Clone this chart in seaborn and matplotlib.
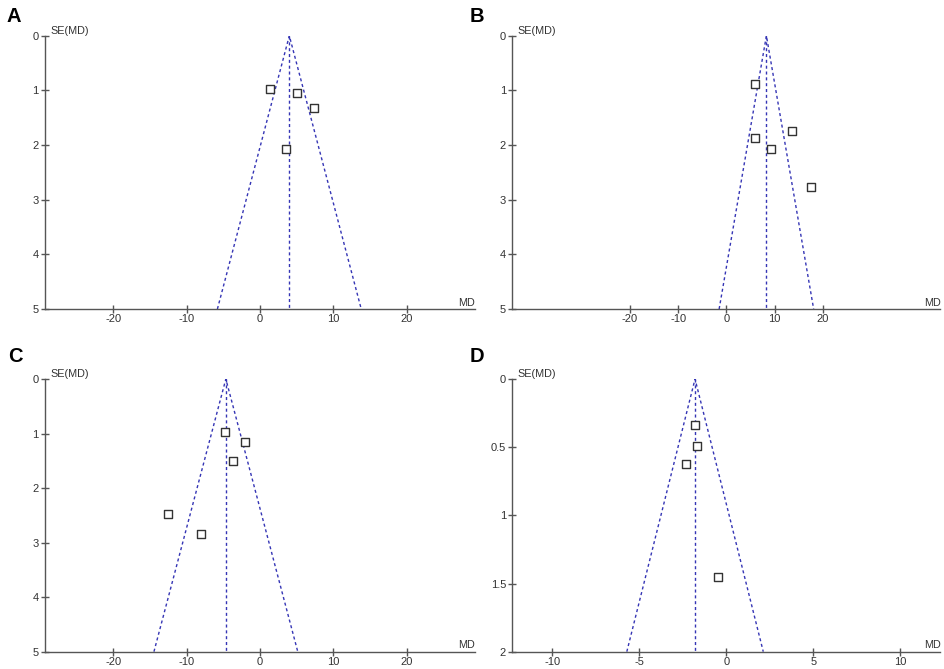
import numpy as np
import pandas as pd
import matplotlib
matplotlib.use("Agg")
import matplotlib.pyplot as plt
import seaborn as sns

# study-level mean differences (MD) and standard errors (SE)
md_a = [1.4, 5.0, 7.4, 3.5]
se_a = [0.97, 1.04, 1.32, 2.08]
md_b = [5.9, 5.9, 9.2, 13.6, 17.6]
se_b = [0.88, 1.88, 2.07, 1.74, 2.77]
md_c = [-4.7, -2.1, -3.7, -12.5, -8.1]
se_c = [0.97, 1.16, 1.50, 2.48, 2.84]
md_d = [-1.8, -1.7, -2.3, -0.5]
se_d = [0.34, 0.49, 0.62, 1.45]

# pooled estimate (centre of each funnel)
pooled = {"A": 4.0, "B": 8.3, "C": -4.65, "D": -1.8}

# axis settings per panel
x_lims = {"A": 29.3, "B": 44.4, "C": 29.3, "D": 12.3}
x_ticks = {"A": [-20, -10, 0, 10, 20], "B": [-20, -10, 0, 10, 20],
           "C": [-20, -10, 0, 10, 20], "D": [-10, -5, 0, 5, 10]}
y_max = {"A": 5, "B": 5, "C": 5, "D": 2}
y_ticks = {"A": [0, 1, 2, 3, 4, 5], "B": [0, 1, 2, 3, 4, 5],
           "C": [0, 1, 2, 3, 4, 5], "D": [0, 0.5, 1, 1.5, 2]}

studies = {"A": (md_a, se_a), "B": (md_b, se_b), "C": (md_c, se_c), "D": (md_d, se_d)}

sns.set_theme(style="white")
plt.rcParams["font.family"] = ["Liberation Sans", "DejaVu Sans"]
plt.rcParams["axes.unicode_minus"] = False

fig = plt.figure(figsize=(9.45, 6.69), dpi=100)

# axes rectangles [left, bottom, width, height] in figure fractions
rects = {
    "A": [0.0476, 0.5381, 0.4550, 0.4085],
    "B": [0.5421, 0.5381, 0.4531, 0.4085],
    "C": [0.0476, 0.0259, 0.4550, 0.4076],
    "D": [0.5421, 0.0259, 0.4531, 0.4076],
}
letter_pos = {"A": (13.5, 17), "B": (477, 17), "C": (15.5, 357), "D": (477, 357)}

axis_col = "#555555"
text_col = "#333333"
funnel_col = "#3535b5"

for key in ["A", "B", "C", "D"]:
    ax = fig.add_axes(rects[key])
    md, se = studies[key]
    c = pooled[key]
    ym = y_max[key]

    # funnel: 95% pseudo confidence limits and the pooled line
    funnel = pd.DataFrame({
        "x": [c - 1.96 * ym, c, c + 1.96 * ym, c, c],
        "y": [ym, 0, ym, 0, ym],
        "part": ["side", "side", "side", "mid", "mid"],
    })
    for part, grp in funnel.groupby("part"):
        sns.lineplot(data=grp, x="x", y="y", sort=False, ax=ax, color=funnel_col,
                     linewidth=1.0, linestyle=(0, (2.2, 2)), estimator=None)

    df = pd.DataFrame({"md": md, "se": se})
    sns.scatterplot(data=df, x="md", y="se", ax=ax, marker="s", s=30,
                    facecolor="white", edgecolor="#333333", linewidth=1.0, zorder=5)

    ax.set_xlim(-x_lims[key], x_lims[key])
    ax.set_ylim(ym, 0)
    ax.set_xticks(x_ticks[key])
    ax.set_yticks(y_ticks[key])
    ax.set_yticklabels([f"{v:g}" for v in y_ticks[key]])
    ax.set_xlabel("")
    ax.set_ylabel("")
    for side in ["top", "right"]:
        ax.spines[side].set_visible(False)
    for side in ["left", "bottom"]:
        ax.spines[side].set_color(axis_col)
        ax.spines[side].set_linewidth(1.0)
    ax.tick_params(axis="both", bottom=True, left=True, direction="inout",
                   length=6, width=1.0, colors=axis_col, labelcolor=text_col,
                   labelsize=8, pad=1.5)
    ax.tick_params(axis="x", pad=0.5)
    ax.grid(False)

    ax.text(0.012, 1.0, "SE(MD)", transform=ax.transAxes, fontsize=7.8,
            color=text_col, ha="left", va="bottom")
    ax.text(1.0, 0.005, "MD", transform=ax.transAxes, fontsize=7.8,
            color=text_col, ha="right", va="bottom")

    lx, ly = letter_pos[key]
    fig.text(lx / 945, 1 - ly / 669, key, fontsize=14.5, fontweight="bold",
             ha="center", va="center", color="black")

fig.savefig("out.png", dpi=100)
